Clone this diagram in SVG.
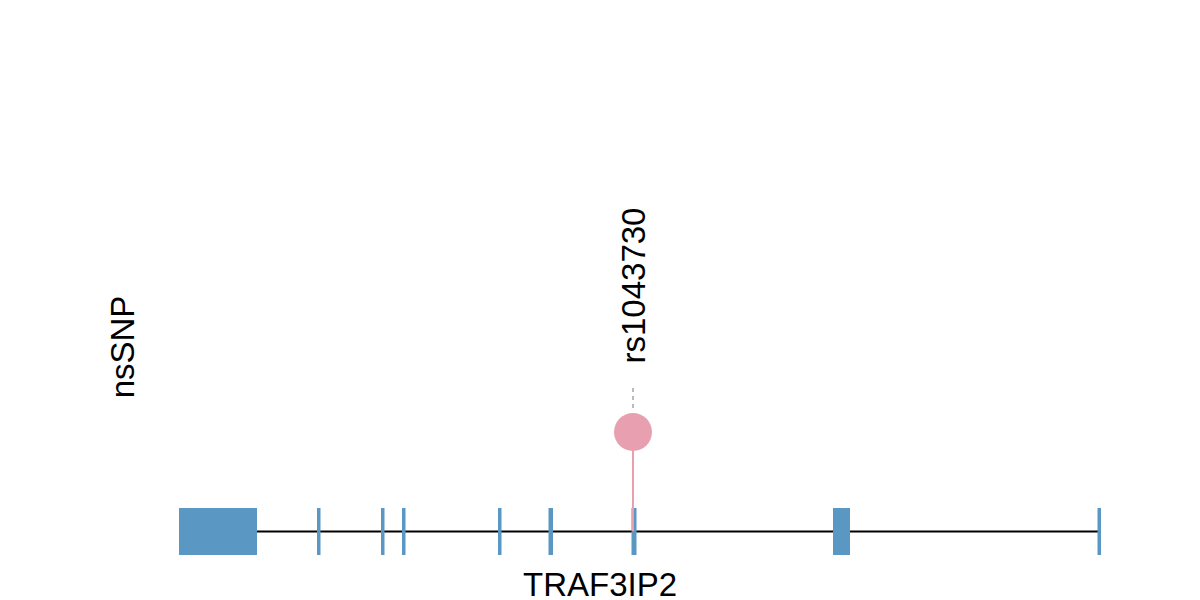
<svg xmlns="http://www.w3.org/2000/svg" width="1200" height="600" viewBox="0 0 1200 600">
<style>
.exon{fill:#5b97c3;}
.lbl{font-family:"Liberation Sans",Arial,sans-serif;font-size:33px;fill:#000;}
</style>
<rect width="1200" height="600" fill="#fff"/>
<g id="connectors">
<line x1="257" y1="531.5" x2="1099" y2="531.5" stroke="#000" stroke-width="2"/>
</g>
<g id="gene">
<rect class="exon" x="179" y="508" width="78" height="47"/>
<rect class="exon" x="317" y="508" width="3.5" height="47"/>
<rect class="exon" x="381" y="508" width="3.5" height="47"/>
<rect class="exon" x="402" y="508" width="3.5" height="47"/>
<rect class="exon" x="498" y="508" width="3.5" height="47"/>
<rect class="exon" x="548.5" y="508" width="4.5" height="47"/>
<rect class="exon" x="631.5" y="508" width="5" height="47"/>
<rect class="exon" x="833" y="508" width="17" height="47"/>
<rect class="exon" x="1097.5" y="508" width="3.5" height="47"/>
</g>
<g id="snp">
<line x1="633" y1="388" x2="633" y2="412" stroke="#bbb" stroke-width="2" stroke-dasharray="4,4"/>
<line x1="633" y1="450" x2="633" y2="531" stroke="#e8a0b0" stroke-width="2"/>
<circle cx="633" cy="432" r="19" fill="#e8a0b0"/>
<text class="lbl" transform="translate(645,285.5) rotate(-90)" text-anchor="middle">rs1043730</text>
</g>
<g id="labels">
<text class="lbl" transform="translate(134,347) rotate(-90)" text-anchor="middle">nsSNP</text>
<text class="lbl" x="600" y="596" text-anchor="middle">TRAF3IP2</text>
</g>
</svg>
